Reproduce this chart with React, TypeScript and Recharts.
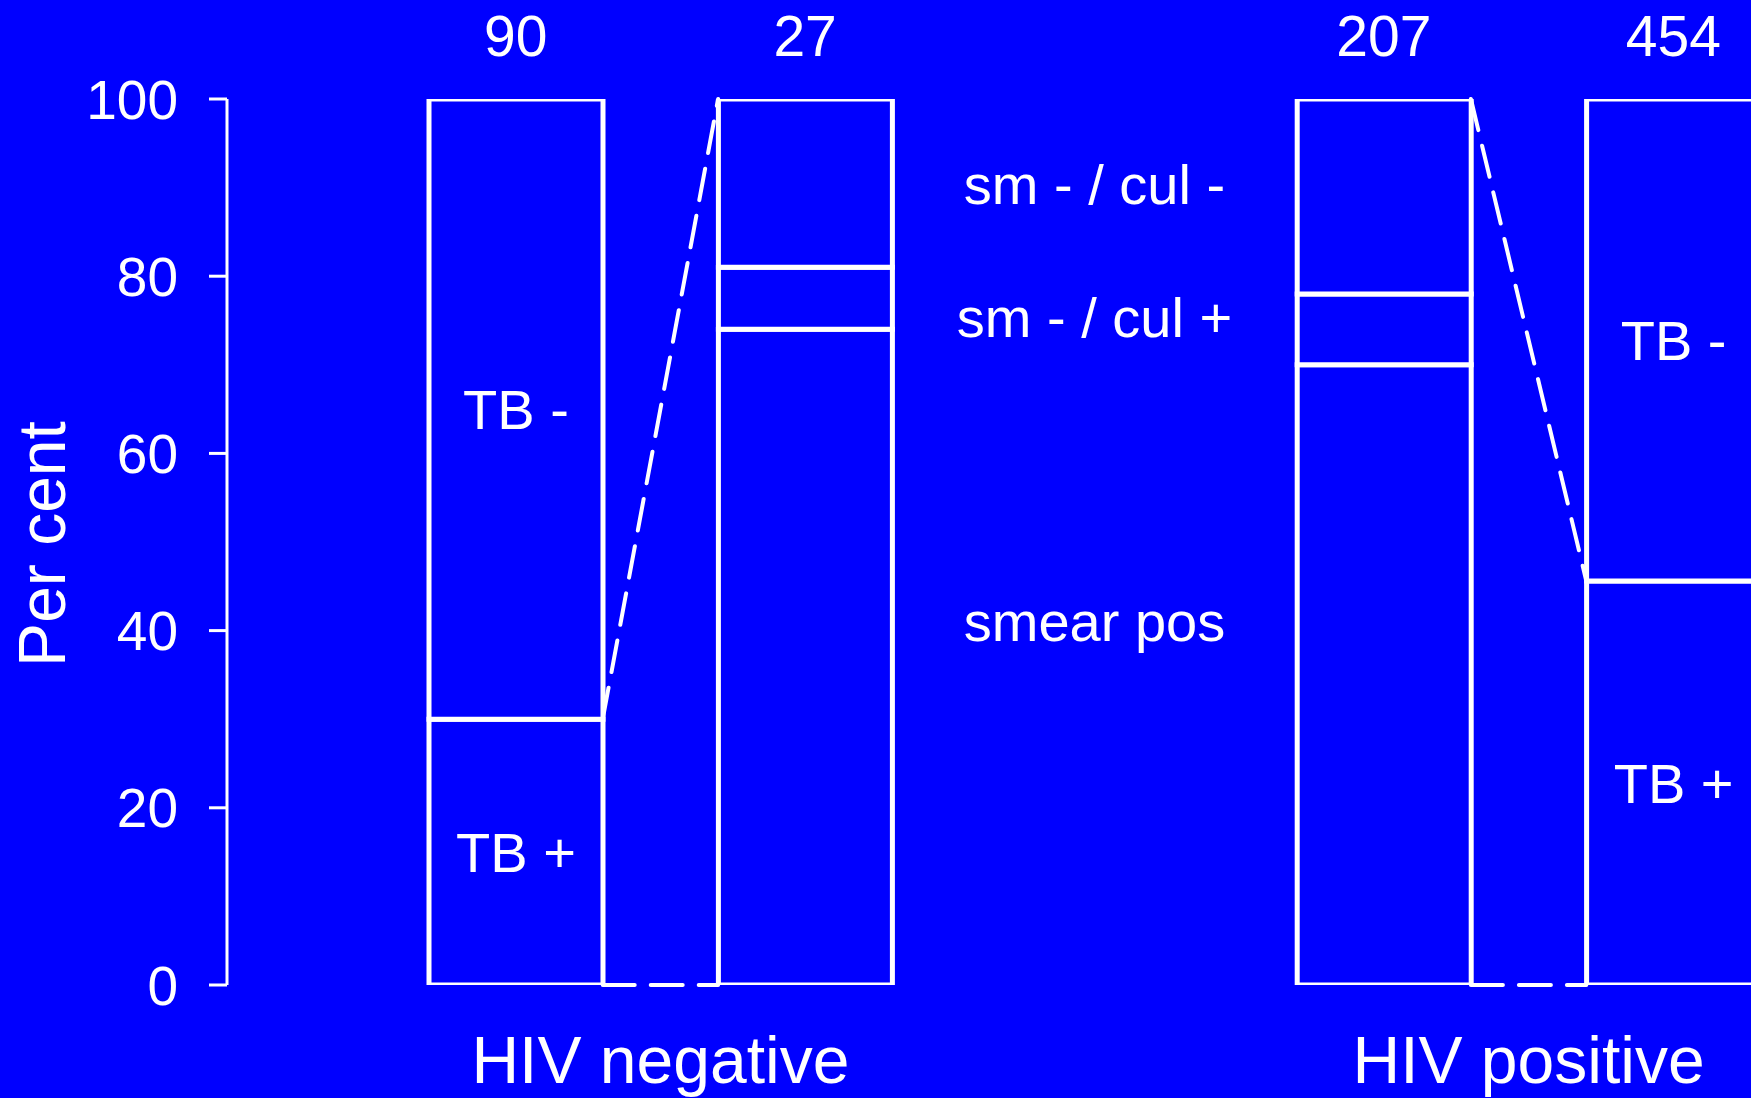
import {
  ComposedChart,
  Bar,
  XAxis,
  YAxis,
  ReferenceLine,
  ReferenceDot,
  LabelList,
} from "recharts";

// one slot per bar, the empty slot keeps the two HIV groups apart
const barKeys = ["negAll", "negTb", "gap", "posTb", "posAll"];
const totals = ["90", "27", "", "207", "454"];

// per cent of each bar
const tbPos = [30, null, null, null, 45.6];
const tbNeg = [70, null, null, null, 54.4];
const smearPos = [null, 74, null, 70, null];
const smNegCulPos = [null, 7, null, 8, null];
const smNegCulNeg = [null, 19, null, 22, null];

const groupLabels = ["HIV negative", "HIV positive"];
const groupTicks = [0.5, 3.5];
const middleLabels = ["sm - / cul -", "sm - / cul +", "smear pos"];
const yTicks = [0, 20, 40, 60, 80, 100];

const data = barKeys.map((key, i) => ({
  key,
  n: totals[i],
  tbPos: tbPos[i],
  tbNeg: tbNeg[i],
  smearPos: smearPos[i],
  smNegCulPos: smNegCulPos[i],
  smNegCulNeg: smNegCulNeg[i],
}));

const BLUE = "#0000ff";
const WHITE = "#ffffff";
const FONT = "'Liberation Sans', Arial, Helvetica, sans-serif";

const W = 1818;
const H = 1098;
const AXIS_W = 227;
const PAD_LEFT = 144;
const BAR = 174;
const band = (W - AXIS_W - PAD_LEFT) / barKeys.length;
const half = BAR / 2 / band;
const gapIndex = barKeys.indexOf("gap");

const segmentLabel = (text: string) => (props: any) => {
  const vb = props.viewBox ?? props;
  if (!vb || !(Math.abs(vb.height) > 1)) return null;
  return (
    <text
      x={vb.x + vb.width / 2}
      y={vb.y + vb.height / 2}
      dy="0.355em"
      textAnchor="middle"
      fill={WHITE}
      fontSize={56}
      fontFamily={FONT}
    >
      {text}
    </text>
  );
};

const yTitle = (props: any) => {
  const vb = props.viewBox ?? { x: 0, y: 99, width: AXIS_W, height: 886 };
  const x = vb.x + 65;
  const y = vb.y + vb.height / 2 + 2;
  return (
    <text
      x={x}
      y={y}
      transform={`rotate(-90 ${x} ${y})`}
      textAnchor="middle"
      fill={WHITE}
      fontSize={66}
      fontFamily={FONT}
    >
      Per cent
    </text>
  );
};

const dashed = {
  xAxisId: "num",
  stroke: WHITE,
  strokeWidth: 4,
  strokeDasharray: "32 16",
  strokeLinecap: "round" as const,
  ifOverflow: "visible" as const,
};

export default function App() {
  const middleLabelY = [90.4, 75.4, 41.1];
  const barProps = {
    xAxisId: "bars",
    stackId: "s",
    fill: BLUE,
    stroke: WHITE,
    strokeWidth: 5,
    barSize: BAR,
    isAnimationActive: false,
  };

  return (
    <div
      style={{
        position: "fixed",
        left: 0,
        top: 0,
        width: 1751,
        height: 1098,
        overflow: "hidden",
        background: BLUE,
        fontFamily: FONT,
      }}
    >
      <ComposedChart
        width={W}
        height={H}
        data={data}
        margin={{ top: 0, right: 0, bottom: 0, left: 0 }}
      >
        <XAxis
          xAxisId="bars"
          dataKey="key"
          hide
          padding={{ left: PAD_LEFT, right: 0 }}
        />
        <XAxis
          xAxisId="top"
          dataKey="n"
          orientation="top"
          height={99}
          padding={{ left: PAD_LEFT, right: 0 }}
          axisLine={false}
          tickLine={false}
          tickSize={0}
          tickMargin={43}
          interval={0}
          tick={{ fill: WHITE, fontSize: 57, fontFamily: FONT }}
        />
        {/* bar index axis: 0..4 lands on the bar centres */}
        <XAxis
          xAxisId="num"
          type="number"
          domain={[0, barKeys.length - 1]}
          allowDataOverflow
          ticks={groupTicks}
          tickFormatter={(_v: number, i: number) => groupLabels[i]}
          height={113}
          padding={{ left: PAD_LEFT + band / 2, right: band / 2 }}
          axisLine={false}
          tickLine={false}
          tickSize={0}
          tickMargin={21}
          interval={0}
          tick={{ fill: WHITE, fontSize: 66, fontFamily: FONT }}
        />
        <YAxis
          type="number"
          domain={[0, 100]}
          allowDataOverflow
          ticks={yTicks}
          interval={0}
          width={AXIS_W}
          axisLine={{ stroke: WHITE, strokeWidth: 3 }}
          tickLine={{ stroke: WHITE, strokeWidth: 3 }}
          tickSize={18}
          tickMargin={31}
          tick={{ fill: WHITE, fontSize: 55, fontFamily: FONT }}
          label={yTitle}
        />

        <Bar dataKey="tbPos" {...barProps}>
          <LabelList dataKey="tbPos" content={segmentLabel("TB +")} />
        </Bar>
        <Bar dataKey="tbNeg" {...barProps}>
          <LabelList dataKey="tbNeg" content={segmentLabel("TB -")} />
        </Bar>
        <Bar dataKey="smearPos" {...barProps} />
        <Bar dataKey="smNegCulPos" {...barProps} />
        <Bar dataKey="smNegCulNeg" {...barProps} />

        {/* HIV negative: TB+ share of the 90 opens into the 27 breakdown */}
        <ReferenceLine
          {...dashed}
          segment={[
            { x: 0 + half, y: tbPos[0] as number },
            { x: 1 - half, y: 100 },
          ]}
        />
        <ReferenceLine
          {...dashed}
          segment={[
            { x: 0 + half, y: 0 },
            { x: 1 - half, y: 0 },
          ]}
        />
        {/* HIV positive: breakdown of the 207 folds into the 454 */}
        <ReferenceLine
          {...dashed}
          segment={[
            { x: 3 + half, y: 100 },
            { x: 4 - half, y: tbPos[4] as number },
          ]}
        />
        <ReferenceLine
          {...dashed}
          segment={[
            { x: 3 + half, y: 0 },
            { x: 4 - half, y: 0 },
          ]}
        />

        {middleLabels.map((text, i) => (
          <ReferenceDot
            key={text}
            xAxisId="num"
            x={gapIndex}
            y={middleLabelY[i]}
            r={0}
            fill="none"
            stroke="none"
            label={{
              value: text,
              position: "center",
              fill: WHITE,
              fontSize: 56,
              fontFamily: FONT,
            }}
          />
        ))}
      </ComposedChart>
    </div>
  );
}
